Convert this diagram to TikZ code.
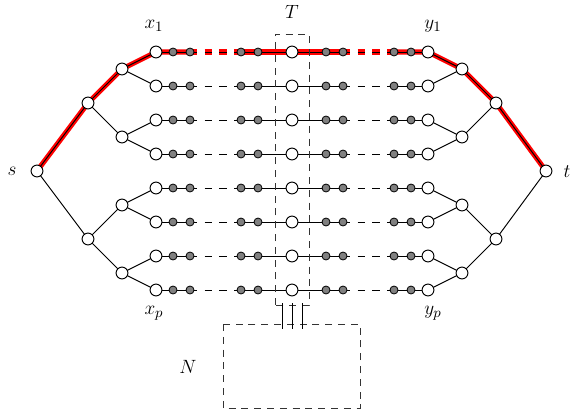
\documentclass[tikz,border=0pt]{standalone}
\usetikzlibrary{backgrounds}
\begin{document}
\begin{tikzpicture}[x=0.625pt,y=-0.625pt,
  wnode/.style={circle,draw=black,fill=white,inner sep=0pt,minimum size=7.4pt,line width=0.6pt},
  gnode/.style={circle,draw=black,fill=black!50,inner sep=0pt,minimum size=5.0pt,line width=0.5pt},
  edge/.style={line width=0.6pt},
  dedge/.style={line width=0.6pt,dash pattern=on 4.6pt off 4.6pt},
  redge/.style={red,line width=3.2pt},
  rdedge/.style={red,line width=3.2pt,dash pattern=on 4.6pt off 4.6pt},
  boxline/.style={line width=0.6pt,black!80,dash pattern=on 4.4pt off 3.6pt},
  lab/.style={inner sep=0pt,font=\fontsize{13}{15}\selectfont}]
\useasboundingbox (0,0) rectangle (572,417);
% tree nodes
\node[wnode] (s) at (37,171) {};
\node[wnode] (LA) at (88,103) {};
\node[wnode] (LB) at (88,239) {};
\node[wnode] (L1) at (122,69) {};
\node[wnode] (L2) at (122,137) {};
\node[wnode] (L3) at (122,205) {};
\node[wnode] (L4) at (122,273) {};
\node[wnode] (t) at (546,171) {};
\node[wnode] (RA) at (496,103) {};
\node[wnode] (RB) at (496,239) {};
\node[wnode] (R1) at (462,69) {};
\node[wnode] (R2) at (462,137) {};
\node[wnode] (R3) at (462,205) {};
\node[wnode] (R4) at (462,273) {};
% rows
\foreach \i in {1,...,8}{
  \pgfmathsetmacro\yy{52+34*(\i-1)}
  \node[wnode] (x\i) at (156,\yy) {};
  \node[gnode] (a\i) at (173,\yy) {};
  \node[gnode] (b\i) at (190,\yy) {};
  \node[gnode] (c\i) at (241,\yy) {};
  \node[gnode] (d\i) at (258,\yy) {};
  \node[wnode] (m\i) at (292,\yy) {};
  \node[gnode] (e\i) at (326,\yy) {};
  \node[gnode] (f\i) at (343,\yy) {};
  \node[gnode] (g\i) at (394,\yy) {};
  \node[gnode] (h\i) at (411,\yy) {};
  \node[wnode] (y\i) at (428,\yy) {};
}
\begin{scope}[on background layer]
  % red highlighted path
  \draw[redge] (s.center) -- (LA.center) -- (L1.center) -- (x1.center) -- (b1.center);
  \draw[rdedge] (b1.center) -- (c1.center);
  \draw[redge] (c1.center) -- (f1.center);
  \draw[rdedge] (f1.center) -- (g1.center);
  \draw[redge] (g1.center) -- (y1.center) -- (R1.center) -- (RA.center) -- (t.center);
  % tree edges
  \draw[edge] (s.center) -- (LA.center) (s.center) -- (LB.center)
    (LA.center) -- (L1.center) (LA.center) -- (L2.center)
    (LB.center) -- (L3.center) (LB.center) -- (L4.center)
    (t.center) -- (RA.center) (t.center) -- (RB.center)
    (RA.center) -- (R1.center) (RA.center) -- (R2.center)
    (RB.center) -- (R3.center) (RB.center) -- (R4.center);
  \foreach \i/\l/\r in {1/L1/R1,2/L1/R1,3/L2/R2,4/L2/R2,5/L3/R3,6/L3/R3,7/L4/R4,8/L4/R4}{
    \draw[edge] (\l.center) -- (x\i.center) (\r.center) -- (y\i.center);
    \draw[edge] (x\i.center) -- (b\i.center) (c\i.center) -- (f\i.center) (g\i.center) -- (y\i.center);
    \draw[dedge] (b\i.center) -- (c\i.center) (f\i.center) -- (g\i.center);
  }
  % boxes
  \draw[boxline] (275,305) -- (275,34) -- (309,34) -- (309,305) -- cycle;
  \draw[boxline] (223,324) rectangle (360,408);
\end{scope}
% connections T to N
\coordinate (k1) at (282,303); \coordinate (k1b) at (282,329);
\coordinate (k2) at (292,303); \coordinate (k2b) at (292,329);
\coordinate (k3) at (302,303); \coordinate (k3b) at (302,329);
\draw[edge] (k1) -- (k1b) (k2) -- (k2b) (k3) -- (k3b);
% labels
\node[lab] (ls) at (12,171) {$s$};
\node[lab] (lt) at (567,172) {$t$};
\node[lab] (lx1) at (154,26) {$x_1$};
\node[lab] (ly1) at (433,26) {$y_1$};
\node[lab] (lxp) at (154,313) {$x_p$};
\node[lab] (lyp) at (433,313) {$y_p$};
\node[lab] (lT) at (292,12) {$T$};
\node[lab] (lN) at (188,367) {$N$};
\end{tikzpicture}
\end{document}
